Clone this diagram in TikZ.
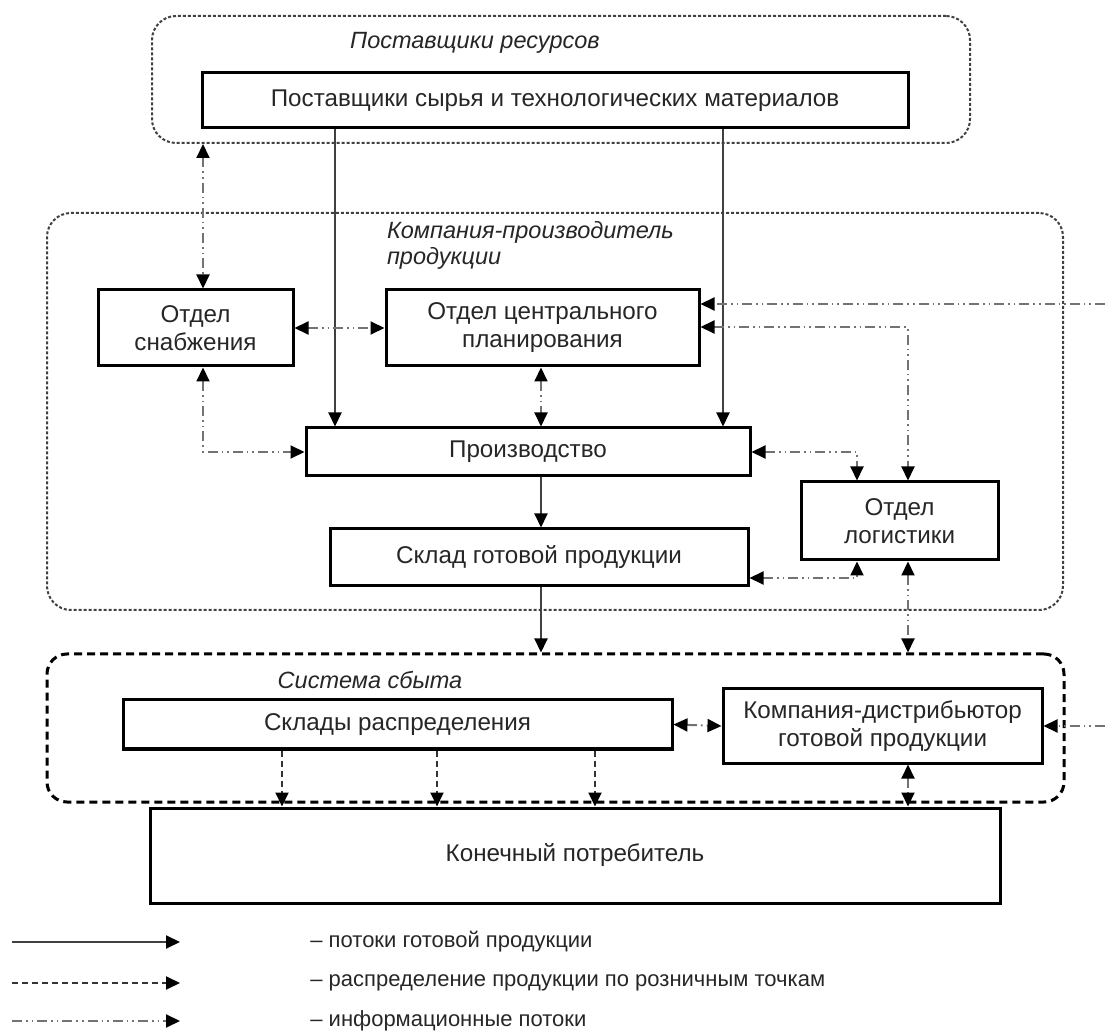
\documentclass[tikz,border=0pt]{standalone}
\usepackage{fontspec}
\setmainfont{Liberation Sans}
\usetikzlibrary{arrows.meta}

\begin{document}
\begin{tikzpicture}[x=0.5pt, y=-0.5pt,
    >={Triangle[width=6.5pt, length=7pt, color=black]},
    every node/.style={font=\fontsize{12.1}{14}\selectfont, text=black!85},
    box/.style={draw, line width=1.5pt, align=center, inner sep=0pt},
    group/.style={draw=black!75, line width=1pt, rounded corners=12pt, dash pattern=on 1.5pt off 1pt},
    salesgroup/.style={draw=black, line width=1.5pt, rounded corners=10pt, dash pattern=on 4pt off 2.5pt},
    title/.style={font=\fontsize{11.75}{13}\selectfont\itshape, align=left},
    legend/.style={anchor=west, inner sep=0pt, font=\fontsize{11}{13}\selectfont},
    flow/.style={->, draw=black!75, line width=1pt},
    distrib/.style={->, draw=black!80, line width=1pt, dash pattern=on 3pt off 2pt},
    info/.style={draw=black!55, line width=1pt, dash pattern=on 5pt off 2pt on 0.8pt off 2pt on 0.8pt off 2pt}]
    \useasboundingbox (0,0) rectangle (1105,1032);

    % Groups
    \node[group, minimum width=409pt, minimum height=63.5pt] (gsup) at (561,79.5) {};
    \node[group, minimum width=508pt, minimum height=198.5pt] (gcomp) at (555,411.5) {};
    \node[salesgroup, minimum width=508.5pt, minimum height=74pt] (gsales) at (555.5,728) {};
    \node[title] (tsup) at (475,43) {Поставщики ресурсов};
    \node[title, anchor=west] (tcomp) at (380,245) {Компания-производитель\\продукции};
    \node[title] (tsales) at (370,680) {Система сбыта};

    % Nodes
    \node[box, minimum width=353pt, minimum height=27.5pt] (sup) at (555,100.5) {Поставщики сырья и технологических материалов};
    \node[box, minimum width=97.5pt, minimum height=38pt] (snab) at (195.5,328) {Отдел\\снабжения};
    \node[box, minimum width=156.5pt, minimum height=38pt] (plan) at (542.5,328) {Отдел центрального\\планирования};
    \node[box, minimum width=222pt, minimum height=24pt] (prod) at (528,452) {Производство};
    \node[box, minimum width=98.5pt, minimum height=39pt] (logist) at (899.5,521) {Отдел\\логистики};
    \node[box, minimum width=209pt, minimum height=28.5pt] (sklad) at (539,557.5) {Склад готовой продукции};
    \node[box, minimum width=274.5pt, minimum height=24.5pt] (rasp) at (397.5,724.5) {Склады распределения};
    \node[box, minimum width=159.5pt, minimum height=37pt] (distr) at (882.5,726) {Компания-дистрибьютор\\готовой продукции};
    \node[box, minimum width=425pt, minimum height=47.5pt] (cons) at (575,855.5) {Конечный потребитель};

    % Line positions
    \coordinate (lsup) at (203,0);
    \coordinate (lmat1) at (335,0);
    \coordinate (lmat2) at (723,0);
    \coordinate (lprod) at (541,0);
    \coordinate (llog1) at (857,0);
    \coordinate (llog2) at (908,0);
    \coordinate (lr1) at (282,0);
    \coordinate (lr2) at (437,0);
    \coordinate (lr3) at (595,0);
    \coordinate (yplan) at (0,327);
    \coordinate (ysklad) at (0,578);
    \coordinate (ext1) at (1105,304);
    \coordinate (ext2) at (1105,726);

    % Lines
    \draw[flow] (sup.south -| lmat1) -- (prod.north -| lmat1);
    \draw[flow] (sup.south -| lmat2) -- (prod.north -| lmat2);
    \draw[flow] (prod.south -| lprod) -- (sklad.north -| lprod);
    \draw[flow] (sklad.south -| lprod) -- (gsales.north -| lprod);

    \draw[info, <->] (gsup.south -| lsup) -- (snab.north -| lsup);
    \draw[info, <->] (snab.east) -- (plan.west);
    \draw[info, <->] (snab.south -| lsup) |- (prod.west);
    \draw[info, <->] (plan.south -| lprod) -- (prod.north -| lprod);
    \draw[info, ->] (ext1) -- (plan.east |- ext1);
    \draw[info, <->] (plan.east |- yplan) -| (logist.north -| llog2);
    \draw[info, <->] (prod.east) -| (logist.north -| llog1);
    \draw[info, <->] (sklad.east |- ysklad) -| (logist.south -| llog1);
    \draw[info, <->] (logist.south -| llog2) -- (gsales.north -| llog2);
    \draw[info, <->] (rasp.east) -- (distr.west);
    \draw[info, ->] (ext2) -- (distr.east);
    \draw[info, <->] (distr.south -| llog2) -- (cons.north -| llog2);

    \draw[distrib] (rasp.south -| lr1) -- (cons.north -| lr1);
    \draw[distrib] (rasp.south -| lr2) -- (cons.north -| lr2);
    \draw[distrib] (rasp.south -| lr3) -- (cons.north -| lr3);

    % Legend
    \coordinate (leg1a) at (12,942);
    \coordinate (leg1b) at (180,942);
    \coordinate (leg2a) at (12,983);
    \coordinate (leg2b) at (180,983);
    \coordinate (leg3a) at (12,1021);
    \coordinate (leg3b) at (180,1021);
    \draw[flow] (leg1a) -- (leg1b);
    \draw[distrib] (leg2a) -- (leg2b);
    \draw[info, ->] (leg3a) -- (leg3b);
    \node[legend] (txt1) at (310,942) {– потоки готовой продукции};
    \node[legend] (txt2) at (310,983) {– распределение продукции по розничным точкам};
    \node[legend] (txt3) at (310,1021) {– информационные потоки};
\end{tikzpicture}
\end{document}
